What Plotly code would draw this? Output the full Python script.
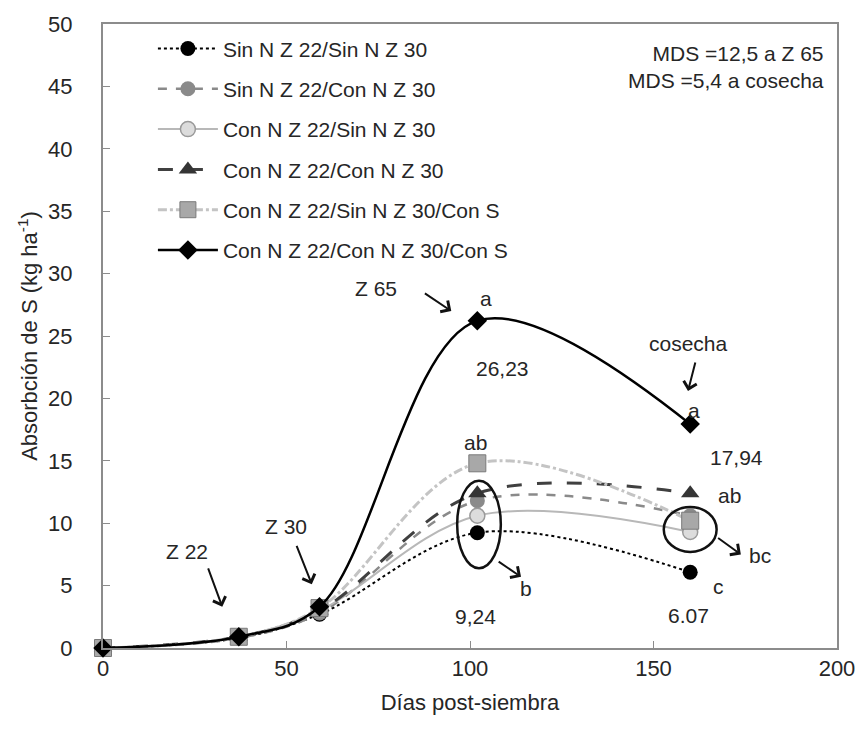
import plotly.graph_objects as go

# ---------------- data ----------------
dias = [0, 37, 59, 102, 160]
nombres = [
    "Sin N Z 22/Sin N Z 30",
    "Sin N Z 22/Con N Z 30",
    "Con N Z 22/Sin N Z 30",
    "Con N Z 22/Con N Z 30",
    "Con N Z 22/Sin N Z 30/Con S",
    "Con N Z 22/Con N Z 30/Con S",
]
sin_sin = [0, 0.8, 2.7, 9.24, 6.07]
sin_con = [0, 0.8, 2.8, 11.8, 10.6]
con_sin = [0, 0.9, 3.0, 10.6, 9.3]
con_con = [0, 0.9, 3.0, 12.4, 12.4]
con_sin_s = [0, 0.9, 3.2, 14.8, 10.2]
con_con_s = [0, 0.9, 3.3, 26.23, 17.94]
valores = [sin_sin, sin_con, con_sin, con_con, con_sin_s, con_con_s]

x_ticks = [0, 50, 100, 150, 200]
y_ticks = [0, 5, 10, 15, 20, 25, 30, 35, 40, 45, 50]

# ---------------- styles ----------------
FONT = "Liberation Sans, Arial, sans-serif"
estilos = [
    dict(line=dict(color="#000000", dash="dot", width=2),
         marker=dict(symbol="circle", size=15, color="#000000")),
    dict(line=dict(color="#8a8a8a", dash="dash", width=2.5),
         marker=dict(symbol="circle", size=15, color="#8a8a8a")),
    dict(line=dict(color="#b8b8b8", dash="solid", width=2),
         marker=dict(symbol="circle", size=15, color="#dcdcdc",
                     line=dict(color="#9a9a9a", width=1.5))),
    dict(line=dict(color="#404040", dash="longdash", width=3),
         marker=dict(symbol="triangle-up", size=16, color="#353535")),
    dict(line=dict(color="#c4c4c4", dash="dashdot", width=3),
         marker=dict(symbol="square", size=17, color="#a8a8a8",
                     line=dict(color="#7a7a7a", width=1))),
    dict(line=dict(color="#000000", dash="solid", width=2.5),
         marker=dict(symbol="diamond", size=15, color="#000000")),
]

fig = go.Figure()
for i, (nom, val, est) in enumerate(zip(nombres, valores, estilos)):
    fig.add_trace(go.Scatter(
        x=dias, y=val, name=nom, mode="lines+markers",
        line=dict(shape="spline", smoothing=1.0, **est["line"]),
        marker=est["marker"], cliponaxis=False,
        legendgroup=f"g{i}",
    ))

# ---------------- annotations ----------------
textos = [
    ("Z 22", 22.8, 7.7), ("Z 30", 49.9, 9.7), ("Z 65", 74.5, 28.8),
    ("a", 104.3, 28.0), ("26,23", 108.9, 22.4), ("ab", 101.4, 16.5),
    ("9,24", 101.6, 2.5), ("b", 115.2, 4.8),
    ("cosecha", 159.5, 24.4), ("a", 161.0, 19.0), ("17,94", 172.6, 15.3),
    ("ab", 170.7, 12.2), ("bc", 178.9, 7.4), ("c", 167.7, 4.9),
    ("6.07", 159.6, 2.6),
]
anns = []
for t, x, y in textos:
    anns.append(dict(text=t, x=x, y=y, xref="x", yref="y", showarrow=False,
                     font=dict(family=FONT, size=21, color="#262626")))

flechas = [
    ((28.5, 6.5), (32.5, 3.3)),
    ((52.6, 8.3), (56.9, 5.1)),
    ((87.3, 28.5), (94.9, 27.0)),
    ((161.5, 23.0), (159.4, 20.6)),
    ((107.4, 7.0), (113.9, 5.7)),
    ((167.2, 8.9), (173.8, 7.5)),
]
for (ax, ay), (x, y) in flechas:
    anns.append(dict(text="", x=x, y=y, ax=ax, ay=ay, xref="x", yref="y",
                     axref="x", ayref="y", showarrow=True, arrowhead=4,
                     arrowsize=1.3, arrowwidth=2, arrowcolor="#111111",
                     standoff=0, startstandoff=0))

anns.append(dict(text="MDS =12,5 a Z 65<br>MDS =5,4 a cosecha", x=0.985, y=0.975,
                 xref="paper", yref="paper", xanchor="right", yanchor="top",
                 align="right", showarrow=False,
                 font=dict(family=FONT, size=21, color="#262626")))

shapes = [
    dict(type="circle", xref="x", yref="y", x0=96.5, x1=108.4, y0=6.4, y1=13.4,
         line=dict(color="#111111", width=2.5)),
    dict(type="circle", xref="x", yref="y", x0=152.8, x1=167.2, y0=7.7, y1=11.3,
         line=dict(color="#111111", width=2.5)),
]

fig.update_layout(
    width=867, height=741,
    margin=dict(l=103, r=26, t=23, b=93),
    paper_bgcolor="white", plot_bgcolor="white",
    font=dict(family=FONT, size=21, color="#262626"),
    annotations=anns, shapes=shapes,
    showlegend=True,
    legend=dict(x=0.068, y=0.993, xanchor="left", yanchor="top",
                bgcolor="rgba(0,0,0,0)", font=dict(family=FONT, size=21, color="#262626"),
                itemwidth=60, traceorder="grouped", tracegroupgap=10),
    xaxis=dict(range=[0, 200], tickvals=x_ticks, ticktext=[str(v) for v in x_ticks],
               showgrid=False, zeroline=False, showline=True, mirror=True,
               linecolor="#8c8c8c", linewidth=2, ticks="inside", ticklen=7,
               tickcolor="#8c8c8c", tickfont=dict(size=22),
               title=dict(text="Días post-siembra", font=dict(size=22), standoff=14)),
    yaxis=dict(range=[0, 50], tickvals=y_ticks, ticktext=[str(v) for v in y_ticks],
               showgrid=False, zeroline=False, showline=True, mirror=True,
               linecolor="#8c8c8c", linewidth=2, ticks="inside", ticklen=7,
               tickcolor="#8c8c8c", tickfont=dict(size=22), ticklabelstandoff=24,
               title=dict(text="Absorbción de S (kg ha<sup>-1</sup>)", font=dict(size=22),
                          standoff=4)),
)

fig.write_html("out.html")
